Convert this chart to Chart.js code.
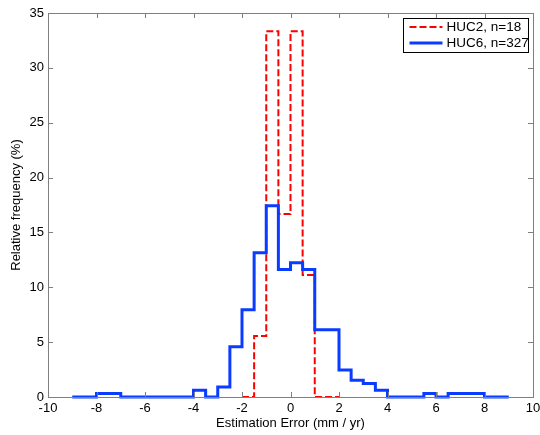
<!DOCTYPE html>
<html>
<head>
<meta charset="utf-8">
<script src="https://cdn.jsdelivr.net/npm/chart.js@4/dist/chart.umd.min.js"></script>
<style>
  html, body { margin: 0; padding: 0; background: #fff; }
  #wrap { width: 540px; height: 435px; }
</style>
</head>
<body>
<div id="wrap"><canvas id="histChart" width="540" height="435"></canvas></div>
<script>
// bin edges and relative frequencies (%)
const huc2Label = "HUC2, n=18";
const huc2Edges = [-2, -1.5, -1, -0.5, 0, 0.5, 1, 1.5, 2];
const huc2Values = [0, 5.56, 33.33, 16.67, 33.33, 11.11, 0, 0];

const huc6Label = "HUC6, n=327";
const huc6Edges = [-9, -8.5, -8, -7.5, -7, -6.5, -6, -5.5, -5, -4.5, -4, -3.5, -3, -2.5, -2, -1.5, -1, -0.5,
                   0, 0.5, 1, 1.5, 2, 2.5, 3, 3.5, 4, 4.5, 5, 5.5, 6, 6.5, 7, 7.5, 8, 8.5, 9];
const huc6Values = [0, 0, 0.31, 0.31, 0, 0, 0, 0, 0, 0, 0.61, 0, 0.92, 4.59, 7.95, 13.15, 17.43, 11.62,
                    12.23, 11.62, 6.12, 6.12, 2.45, 1.53, 1.22, 0.61, 0, 0, 0, 0.31, 0, 0.31, 0.31, 0.31, 0, 0];

const xTicks = [-10, -8, -6, -4, -2, 0, 2, 4, 6, 8, 10];
const yTicks = [0, 5, 10, 15, 20, 25, 30, 35];

const FONT = "'Liberation Sans', Arial, Helvetica, sans-serif";
const AXIS_GREY = "#7f7f7f";

// stairs: each bin value holds from its left edge to the next edge ("before" stepping)
function stairs(edges, values) {
  const pts = values.map((v, i) => ({ x: edges[i], y: v }));
  pts.push({ x: edges[edges.length - 1], y: 0 });
  return pts;
}

// matlab-ish box with inward ticks on all four sides
const boxAxes = {
  id: "boxAxes",
  afterDatasetsDraw(chart) {
    const { ctx, chartArea: a, scales } = chart;
    const len = 5;
    ctx.save();
    ctx.strokeStyle = AXIS_GREY;
    ctx.lineWidth = 1;
    ctx.beginPath();
    xTicks.forEach(t => {
      const px = Math.round(scales.x.getPixelForValue(t)) + 0.5;
      ctx.moveTo(px, a.bottom); ctx.lineTo(px, a.bottom - len);
      ctx.moveTo(px, a.top); ctx.lineTo(px, a.top + len);
    });
    yTicks.forEach(t => {
      const py = Math.round(scales.y.getPixelForValue(t)) + 0.5;
      ctx.moveTo(a.left, py); ctx.lineTo(a.left + len, py);
      ctx.moveTo(a.right, py); ctx.lineTo(a.right - len, py);
    });
    ctx.stroke();
    ctx.strokeRect(Math.round(a.left) + 0.5, Math.round(a.top) + 0.5,
                   Math.round(a.right - a.left), Math.round(a.bottom - a.top));
    ctx.restore();
  }
};

// legend box in the upper right corner of the axes
const boxLegend = {
  id: "boxLegend",
  afterDraw(chart) {
    const { ctx, chartArea: a } = chart;
    const items = [chart.data.datasets[0], chart.data.datasets[1]];
    const w = 125, h = 34;
    const x0 = Math.round(a.right - 5 - w) + 0.5;
    const y0 = Math.round(a.top + 5) + 0.5;
    ctx.save();
    ctx.fillStyle = "#fff";
    ctx.fillRect(x0, y0, w, h);
    ctx.strokeStyle = "#000";
    ctx.lineWidth = 1;
    ctx.strokeRect(x0, y0, w, h);
    ctx.font = "13.5px " + FONT;
    ctx.textBaseline = "middle";
    items.forEach((ds, i) => {
      const y = y0 + 8.5 + i * 16;
      ctx.strokeStyle = ds.borderColor;
      ctx.lineWidth = ds.borderWidth;
      ctx.setLineDash(ds.borderDash || []);
      ctx.beginPath();
      ctx.moveTo(x0 + 6, y);
      ctx.lineTo(x0 + 39, y);
      ctx.stroke();
      ctx.setLineDash([]);
      ctx.fillStyle = "#000";
      ctx.fillText(ds.label, x0 + 43, y + 0.5);
    });
    ctx.restore();
  }
};

const ctx = document.getElementById("histChart").getContext("2d");
new Chart(ctx, {
  type: "line",
  data: {
    datasets: [
      {
        label: huc2Label,
        data: stairs(huc2Edges, huc2Values),
        stepped: "before",
        borderColor: "#ff0000",
        borderWidth: 2,
        borderDash: [7, 3],
        pointRadius: 0,
        fill: false,
        clip: false,
        order: 2
      },
      {
        label: huc6Label,
        data: stairs(huc6Edges, huc6Values),
        stepped: "before",
        borderColor: "#0a3cff",
        borderWidth: 3,
        pointRadius: 0,
        fill: false,
        clip: false,
        order: 1
      }
    ]
  },
  options: {
    responsive: false,
    animation: false,
    layout: { padding: { top: 13, right: 7, left: 0, bottom: 0 } },
    plugins: {
      legend: { display: false },
      tooltip: { enabled: false }
    },
    scales: {
      x: {
        type: "linear",
        min: -10,
        max: 10,
        afterBuildTicks: s => { s.ticks = xTicks.map(v => ({ value: v })); },
        afterFit: s => { s.height = 38; s.paddingLeft = 0; s.paddingRight = 0; },
        grid: { display: false, drawTicks: false },
        border: { display: false },
        ticks: { color: "#000", padding: 4, maxRotation: 0, font: { family: FONT, size: 13 } },
        title: {
          display: true,
          text: "Estimation Error (mm / yr)",
          color: "#000",
          padding: { top: 0, bottom: 4 },
          font: { family: FONT, size: 13 }
        }
      },
      y: {
        type: "linear",
        min: 0,
        max: 35,
        afterBuildTicks: s => { s.ticks = yTicks.map(v => ({ value: v })); },
        afterFit: s => { s.width = 48; s.paddingTop = 0; s.paddingBottom = 0; },
        grid: { display: false, drawTicks: false },
        border: { display: false },
        ticks: { color: "#000", padding: 4, font: { family: FONT, size: 13 } },
        title: {
          display: true,
          text: "Relative frequency (%)",
          color: "#000",
          padding: { top: 9, bottom: 0 },
          font: { family: FONT, size: 13 }
        }
      }
    }
  },
  plugins: [boxAxes, boxLegend]
});
</script>
</body>
</html>
